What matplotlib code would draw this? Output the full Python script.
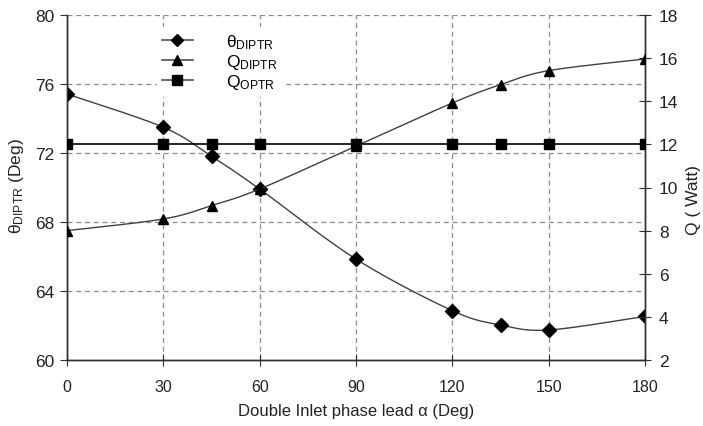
import numpy as np
import matplotlib
matplotlib.use("Agg")
import matplotlib.pyplot as plt
from matplotlib.lines import Line2D

plt.rcParams['font.family'] = ['Liberation Sans', 'DejaVu Sans']
plt.rcParams['mathtext.fontset'] = 'custom'
plt.rcParams['mathtext.rm'] = 'Liberation Sans'
plt.rcParams['mathtext.it'] = 'Liberation Sans'

alpha = [0, 30, 45, 60, 90, 120, 135, 150, 180]
theta_diptr = [75.42, 73.49, 71.81, 69.91, 65.85, 62.86, 62.03, 61.74, 62.53]
q_diptr = [8.0, 8.54, 9.16, 9.93, 11.92, 13.92, 14.77, 15.42, 15.96]
q_optr = [12, 12, 12, 12, 12, 12, 12, 12, 12]

x_ticks = [0, 30, 60, 90, 120, 150, 180]
left_ticks = [60, 64, 68, 72, 76, 80]
right_ticks = [2, 4, 6, 8, 10, 12, 14, 16, 18]


def smooth(x, y, n=20):
    # Catmull-Rom curve through the points (line rendering only)
    x = np.asarray(x, float)
    y = np.asarray(y, float)
    P = np.column_stack([x, y])
    P = np.vstack([P[0], P, P[-1]])
    out = []
    for i in range(1, len(P) - 2):
        p0, p1, p2, p3 = P[i - 1], P[i], P[i + 1], P[i + 2]
        t = np.linspace(0, 1, n)[:, None]
        seg = 0.5 * ((2 * p1) + (-p0 + p2) * t + (2 * p0 - 5 * p1 + 4 * p2 - p3) * t ** 2
                     + (-p0 + 3 * p1 - 3 * p2 + p3) * t ** 3)
        out.append(seg)
    out = np.vstack(out)
    return out[:, 0], out[:, 1]


W, H = 703, 427
fig = plt.figure(figsize=(W / 100, H / 100), dpi=100)
ax = fig.add_axes([67 / W, 1 - 361 / H, 578 / W, 345 / H])
ax2 = ax.twinx()

ax.set_xlim(0, 180)
ax.set_ylim(60, 80)
ax2.set_ylim(2, 18)

ax.set_xticks(x_ticks)
ax.set_yticks(left_ticks)
ax.set_yticklabels([str(v) for v in left_ticks])
ax2.set_yticks(right_ticks)

ax.grid(True, color='#8c8c8c', linestyle=(0, (4, 3)), linewidth=0.9)
ax.set_axisbelow(True)

for a in (ax, ax2):
    a.spines['top'].set_visible(False)
    for s in ('left', 'right', 'bottom'):
        a.spines[s].set_color('#303030')
        a.spines[s].set_linewidth(1.0)

ax.tick_params(axis='x', direction='inout', length=8, labelsize=11.5, pad=10, colors='#303030', labelcolor='#222222')
ax.tick_params(axis='y', direction='out', length=5, labelsize=12.5, pad=4, colors='#303030', labelcolor='#222222')
ax2.tick_params(axis='y', direction='inout', length=8, labelsize=12.5, pad=6, colors='#303030', labelcolor='#222222')

# theta on left axis
sx, sy = smooth(alpha, theta_diptr)
ax.plot(sx, sy, color='#404040', lw=1.0, zorder=3)
ax.plot(alpha, theta_diptr, linestyle='none', marker='D', ms=7.5, color='black', zorder=4)

# Q on right axis
sx, sy = smooth(alpha, q_diptr)
ax2.plot(sx, sy, color='#404040', lw=1.0, zorder=3)
ax2.plot(alpha, q_diptr, linestyle='none', marker='^', ms=7.5, color='black', zorder=4)
ax2.plot(alpha, q_optr, color='black', lw=1.2, marker='s', ms=7, zorder=3)

# legend
handles = [
    Line2D([], [], color='#505050', lw=1.2, marker='D', ms=6, mfc='black', mec='black'),
    Line2D([], [], color='#505050', lw=1.2, marker='^', ms=7, mfc='black', mec='black'),
    Line2D([], [], color='#505050', lw=1.2, marker='s', ms=7, mfc='black', mec='black'),
]
labels = [r'θ$_{\mathrm{DIPTR}}$', r'Q$_{\mathrm{DIPTR}}$', r'Q$_{\mathrm{OPTR}}$']
leg = ax2.legend(handles, labels, loc='upper left', bbox_to_anchor=(0.14, 0.99),
                 frameon=True, fontsize=12.5, handlelength=1.8, handletextpad=1.9,
                 labelspacing=0.05, borderpad=0.3, fancybox=False)
leg.get_frame().set_edgecolor('white')
leg.get_frame().set_facecolor('white')
leg.get_frame().set_alpha(1)

ax.set_xlabel('Double Inlet phase lead α (Deg)', fontsize=12, color='#222222', labelpad=6)
ax.set_ylabel(r'θ$_{\mathrm{DIPTR}}$ (Deg)', fontsize=12.5, color='#222222')
ax.yaxis.set_label_coords((26 - 67) / 578, (361 - 186) / 345)
ax2.set_ylabel('Q ( Watt)', fontsize=12.5, color='#222222')
ax2.yaxis.set_label_coords((686 - 67) / 578, (361 - 200) / 345)

fig.savefig('out.png', dpi=100)
